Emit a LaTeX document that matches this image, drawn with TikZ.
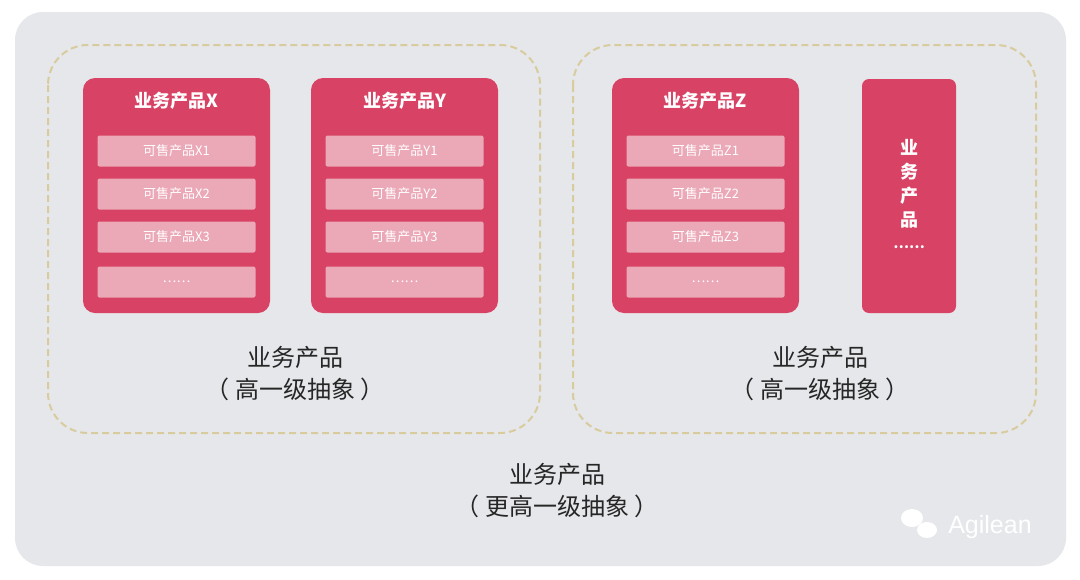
\documentclass[tikz,border=0pt]{standalone}
\usepackage{fontspec}
\setmainfont{Noto Sans CJK SC}
\newfontfamily\latinf{Liberation Sans}
\begin{document}
\begin{tikzpicture}[x=1pt,y=-1pt,
  card/.style={fill=cardc,draw=none,rounded corners=12pt},
  sub/.style={fill=subc,draw=none,rounded corners=2pt,minimum width=158pt,minimum height=31pt,text=white,font=\fontsize{13}{13}\selectfont,inner sep=0pt},
  title/.style={text=white,font=\bfseries\fontsize{18}{18}\selectfont},
  lab/.style={align=center,font=\fontsize{24}{32}\selectfont,text=black!85},
  dbox/.style={draw=dashc,line width=2pt,dash pattern=on 7pt off 4pt,rounded corners=40pt}]
\definecolor{cardc}{HTML}{D84264}
\definecolor{subc}{HTML}{EBA8B7}
\definecolor{grayc}{HTML}{E6E7EA}
\definecolor{dashc}{HTML}{D8CB9E}
\useasboundingbox (0,0) rectangle (1080,579);
\fill[white] (0,0) rectangle (1080,579);
\fill[grayc,rounded corners=28pt] (15,12) rectangle (1066,566);
\draw[dbox] (48,45) rectangle (540,433);
\draw[dbox] (573,45) rectangle (1036,433);
\foreach \n/\x/\L in {X/83/X,Y/311/Y,Z/612/Z}{
  \fill[card] (\x,78) rectangle ++(187,235);
  \node[title] (t\n) at (\x+93.5,101) {业务产品\L};
  \node[sub] (s\n1) at (\x+93.5,151) {可售产品\L1};
  \node[sub] (s\n2) at (\x+93.5,194) {可售产品\L2};
  \node[sub] (s\n3) at (\x+93.5,237) {可售产品\L3};
  \node[sub] (s\n4) at (\x+93.5,282) {……};
}
\fill[card,rounded corners=7pt] (862,79) rectangle (956,313);
\node[title,align=center,font=\bfseries\fontsize{18}{24}\selectfont] (tW) at (909,184) {业\\务\\产\\品};
\node[text=white,font=\bfseries\fontsize{14}{14}\selectfont] (dW) at (909,247) {……};
\node[lab] (l1) at (295,374) {业务产品\\（ 高一级抽象 ）};
\node[lab] (l2) at (820,374) {业务产品\\（ 高一级抽象 ）};
\node[lab] (l3) at (557,491) {业务产品\\（ 更高一级抽象 ）};
\node[text=white,font=\latinf\fontsize{25}{25}\selectfont] (wm) at (990,527) {Agilean};
\fill[white] (912,518) ellipse (11 and 9);
\fill[white] (927,530) ellipse (10 and 8);
\end{tikzpicture}
\end{document}
